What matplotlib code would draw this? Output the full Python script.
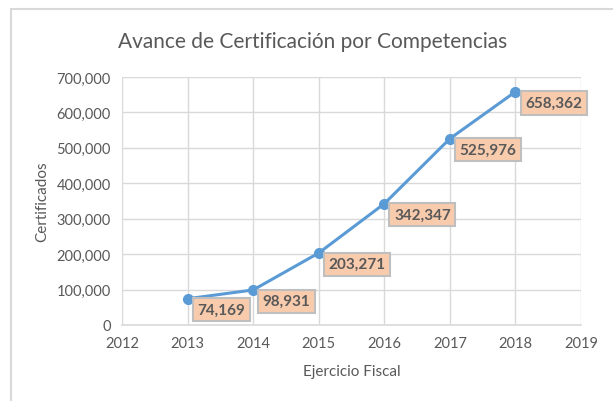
#!/usr/bin/env python3
# -*- coding: UTF-8 -*-
import matplotlib
matplotlib.use("Agg")
import matplotlib.pyplot as plt
from matplotlib.patches import Rectangle
from matplotlib.ticker import FuncFormatter

years=[2013,2014,2015,2016,2017,2018]
certificados=[74169,98931,203271,342347,525976,658362]
xticks=[2012,2013,2014,2015,2016,2017,2018,2019]
yticks=[0,100000,200000,300000,400000,500000,600000,700000]

plt.rcParams['font.family']=['Lato','DejaVu Sans']
grey='#595959'
grid='#D9D9D9'
blue='#5B9BD5'

fig=plt.figure(figsize=(6.13,4.02),dpi=100)
ax=fig.add_axes([122/613,1-326/402,(581-122)/613,(326-78)/402])

# chart frame (cut off right/bottom like the screenshot)
fig.patches.append(Rectangle((11/613,-0.1),1.2,1-10/402+0.1,transform=fig.transFigure,
                             fill=False,ec=grid,lw=1.5))

ax.plot(years,certificados,'-o',color=blue,lw=2.2,markersize=7,zorder=3)
for x,y in zip(years,certificados):
    ax.annotate("{:,}".format(y),(x,y),xytext=(7,-3),textcoords='offset points',
                ha='left',va='top',fontsize=11,fontweight='bold',color=grey,
                bbox=dict(boxstyle='square,pad=0.3',fc='#F8CBAD',ec='#BFBFBF',lw=1.5),zorder=4)

ax.set_xlim(2012,2019)
ax.set_ylim(0,700000)
ax.set_xticks(xticks)
ax.set_yticks(yticks)
ax.yaxis.set_major_formatter(FuncFormatter(lambda v,p:"{:,}".format(int(v))))
ax.grid(True,color=grid,lw=1)
ax.set_axisbelow(True)
for s in ['top','right','left']:
    ax.spines[s].set_visible(False)
ax.spines['bottom'].set_color(grid)
ax.spines['bottom'].set_linewidth(1.2)
ax.tick_params(length=0,labelsize=10.5,colors=grey,pad=8)

fig.text(313/613,1-42/402,"Avance de Certificación por Competencias",fontsize=15,color=grey,
         ha='center',va='center')
ax.set_xlabel("Ejercicio Fiscal",fontsize=11,color=grey,labelpad=10)
ax.set_ylabel("Certificados",fontsize=11,color=grey,labelpad=5)

plt.savefig("out.png",dpi=100)
